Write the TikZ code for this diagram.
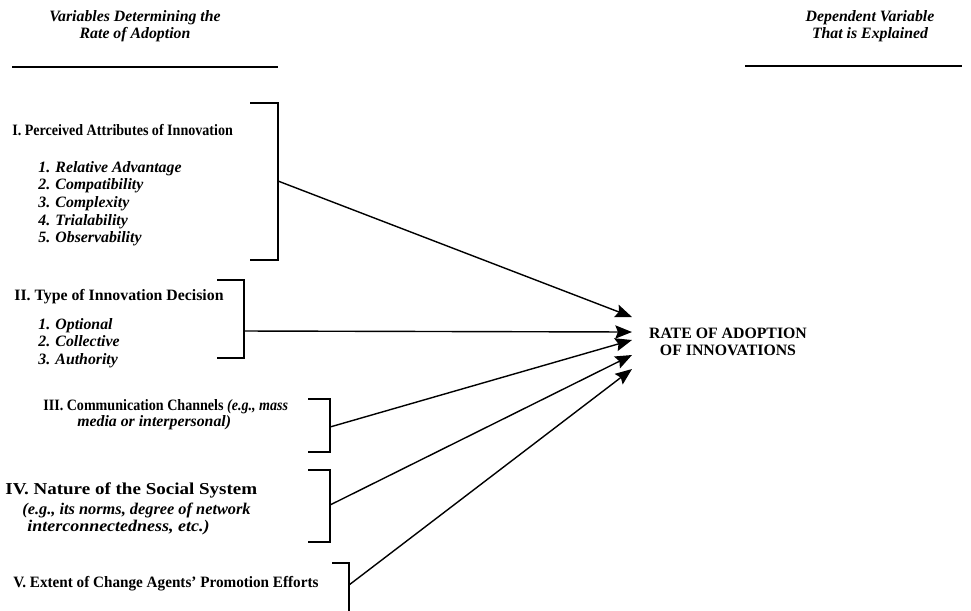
\documentclass[tikz,border=0pt]{standalone}
\usepackage{fontspec}
\setmainfont{Liberation Serif}
\usepackage{graphicx}
\usepackage{tikz}
\usetikzlibrary{arrows.meta, positioning}

\begin{document}
\begin{tikzpicture}[
    x=0.02cm, y=-0.02cm,
    hd/.style={font=\fontsize{9}{9.8}\selectfont\bfseries\itshape, align=center},
    var/.style={font=\fontsize{#1}{10}\selectfont\bfseries, anchor=west, inner sep=0pt},
    var/.default=9,
    item/.style={font=\fontsize{#1}{10}\selectfont\bfseries\itshape, anchor=west,
                 align=left, inner sep=0pt},
    item/.default=9,
    brk/.style={line width=0.7pt},
    rule/.style={line width=1.6pt},
    arr/.style={-{Stealth[length=9.5pt, width=7.5pt, inset=1.5pt]}, line width=0.8pt},
]
    \useasboundingbox (0,0) rectangle (971,610);

    % Column headings
    \node[hd] (hleft) at (135,26) {Variables Determining the\\Rate of Adoption};
    \node[hd] (hright) at (870,26) {Dependent Variable\\That is Explained};
    \draw[rule] (12,67) -- (278,67);
    \draw[rule] (745,66) -- (962,66);

    % Independent variables
    \node[var] (v1) at (12,130) {\scalebox{.89}[1]{I. Perceived Attributes of Innovation}};
    \node[item, anchor=north west] (v1i) at (38,161) {1. Relative Advantage\\2. Compatibility\\3. Complexity\\4. Trialability\\5. Observability};
    \node[var] (v2) at (14,297) {II. Type of Innovation Decision};
    \node[item, anchor=north west] (v2i) at (38,318) {1. Optional\\2. Collective\\3. Authority};
    \node[var] (v3) at (43,407) {\scalebox{.89}[1]{III. Communication Channels \textit{(e.g., mass}}};
    \node[item] (v3i) at (77,423) {media or interpersonal)};
    \node[var=9.5] (v4) at (5,490) {\scalebox{1.14}[1]{IV. Nature of the Social System}};
    \node[item=9.3] (v4a) at (22,510) {(e.g., its norms, degree of network};
    \node[item=9.3] (v4b) at (27,528) {\scalebox{1.1}[1]{interconnectedness, etc.)}};
    \node[var] (v5) at (13,584) {\scalebox{.96}[1]{V. Extent of Change Agents' Promotion Efforts}};

    % Brackets
    \coordinate (b1) at (278,181);
    \coordinate (b2) at (244,331);
    \coordinate (b3) at (330,427);
    \coordinate (b4) at (330,505);
    \coordinate (b5) at (349,585);
    \draw[brk] (250,103) -- (278,103) -- (278,260) -- (250,260);
    \draw[brk] (217,280) -- (244,280) -- (244,358) -- (217,358);
    \draw[brk] (308,399) -- (330,399) -- (330,452) -- (308,452);
    \draw[brk] (308,470) -- (330,470) -- (330,542) -- (308,542);
    \draw[brk] (332,563) -- (349,563) -- (349,612);

    % Dependent variable
    \node[var, align=center, anchor=center] (rate) at (728,342) {RATE OF ADOPTION\\OF INNOVATIONS};
    \coordinate (t1) at (632,317);
    \coordinate (t2) at (632,332);
    \coordinate (t3) at (632,340);
    \coordinate (t4) at (632,355);
    \coordinate (t5) at (632,369);

    % Arrows
    \draw[arr] (b1) -- (t1);
    \draw[arr] (b2) -- (t2);
    \draw[arr] (b3) -- (t3);
    \draw[arr] (b4) -- (t4);
    \draw[arr] (b5) -- (t5);
\end{tikzpicture}
\end{document}
